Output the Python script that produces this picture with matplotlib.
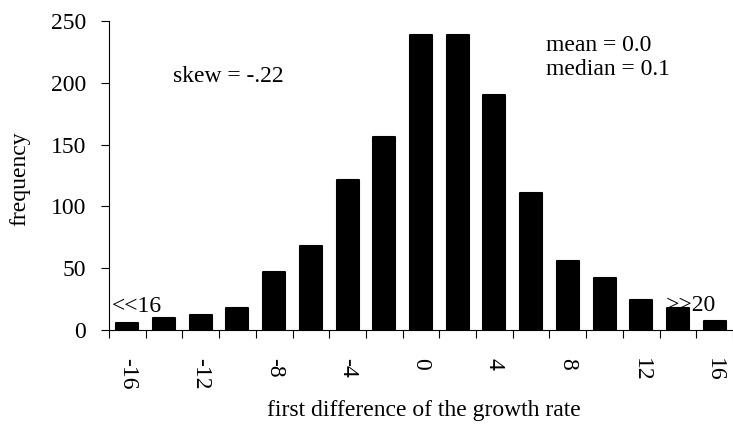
import numpy as np
import matplotlib.pyplot as plt

# histogram of first differences (bin centres, counts)
bins = [-16, -14, -12, -10, -8, -6, -4, -2, 0, 2, 4, 6, 8, 10, 12, 14, 16]
counts = [6, 10, 12, 18, 47, 68, 121, 156, 239, 239, 190, 111, 56, 42, 24, 18, 7]
tick_vals = [-16, -12, -8, -4, 0, 4, 8, 12, 16]
tick_labels = ['-16', '-12', '-8', '-4', '0', '4', '8', '12', '16']

plt.rcParams['font.family'] = ['Liberation Serif', 'DejaVu Serif']
fs = 17

fig = plt.figure(figsize=(7.33, 4.26), dpi=100)
ax = fig.add_axes([0.1487, 0.2254, 0.8513, 0.7253])

ax.bar(bins, counts, width=1.2, color='black', edgecolor='black',
       linewidth=1.5, joinstyle='round', zorder=3)

ax.set_xlim(-17, 17)
ax.set_ylim(0, 250)

# category boundary ticks, labels under every other bar
ax.set_xticks(np.arange(-17, 17.1, 2))
ax.set_xticklabels([])
ax.set_xticks(tick_vals, minor=True)
ax.set_xticklabels(tick_labels, minor=True, rotation=-90, fontsize=fs, va='top')
ax.tick_params(axis='x', which='major', direction='out', length=5.5, width=0.8)
ax.tick_params(axis='x', which='minor', length=0, pad=20)

ax.set_yticks([0, 50, 100, 150, 200, 250])
ax.tick_params(axis='y', direction='out', length=5.5, width=0.8, labelsize=fs, pad=11)

for s in ['top', 'right']:
    ax.spines[s].set_visible(False)
ax.spines['left'].set_linewidth(0.8)
ax.spines['bottom'].set_linewidth(0.8)

ax.set_ylabel('frequency', fontsize=fs, va='center')
ax.yaxis.set_label_coords(-0.1426, 0.49)
ax.set_xlabel('first difference of the growth rate', fontsize=fs, va='center')
ax.xaxis.set_label_coords(0.505, -0.262)

ax.text(-10.5, 205, 'skew = -.22', fontsize=fs, ha='center', va='center')
ax.text(6.8, 230, 'mean = 0.0', fontsize=fs, ha='left', va='center')
ax.text(6.8, 211, 'median = 0.1', fontsize=fs, ha='left', va='center')
ax.text(-16.85, 19, '<<16', fontsize=fs, ha='left', va='center', zorder=4)
ax.text(16.1, 19.5, '>>20', fontsize=fs, ha='right', va='center', zorder=2)

fig.savefig('out.png', dpi=100)
